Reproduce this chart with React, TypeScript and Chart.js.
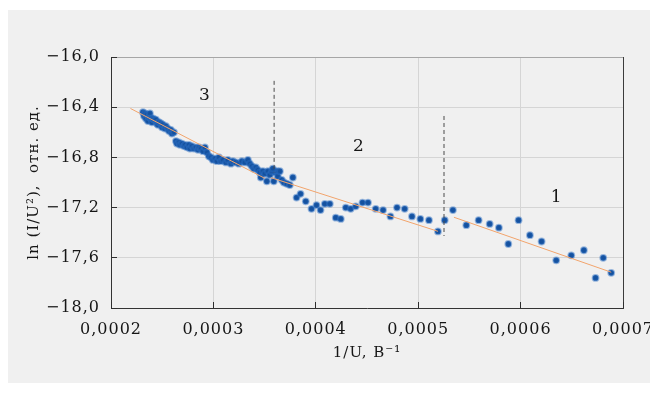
import React, { useEffect, useRef } from "react";
import { Chart, registerables } from "chart.js";

Chart.register(...registerables);

const xTicks = [0.0002, 0.0003, 0.0004, 0.0005, 0.0006, 0.0007];
const yTicks = [-18.0, -17.6, -17.2, -16.8, -16.4, -16.0];

const xTitle = "1/U, В\u207B\u00B9";
const yTitle = "ln (I/U\u00B2),  отн. ед.";

// Zone 3 measurements
const zone3X = [
  0.0002312, 0.0002322, 0.0002332, 0.0002341, 0.0002351, 0.0002361, 0.0002371, 0.000238, 0.000239, 0.00024,
  0.000241, 0.000242, 0.0002439, 0.0002449, 0.0002459, 0.0002468, 0.0002488, 0.0002498, 0.0002507, 0.0002527,
  0.0002537, 0.0002556, 0.0002566, 0.0002585, 0.0002595, 0.0002615,
  0.0002634, 0.0002644, 0.0002663, 0.0002673, 0.0002693, 0.0002712, 0.0002722, 0.0002741, 0.0002761, 0.0002771,
  0.000279, 0.000281, 0.0002829, 0.0002849, 0.0002859, 0.0002878, 0.0002898, 0.0002917,
  0.0002937, 0.0002956, 0.0002976, 0.0002995, 0.0003015, 0.0003034, 0.0003054, 0.0003073, 0.0003093, 0.0003122,
  0.0003141, 0.0003171, 0.000319, 0.000322, 0.0003249, 0.0003278, 0.0003307, 0.0003337, 0.0003356,
  0.0003376, 0.0003395, 0.0003415, 0.0003434, 0.0003454, 0.0003463, 0.0003483, 0.0003502, 0.0003522, 0.0003532,
  0.0003551, 0.0003571, 0.000358, 0.000359,
];
const zone3Y = [
  -16.44, -16.47, -16.45, -16.49, -16.46, -16.51, -16.48, -16.45, -16.49, -16.52,
  -16.49, -16.5, -16.5, -16.53, -16.54, -16.52, -16.53, -16.56, -16.54, -16.57,
  -16.55, -16.57, -16.59, -16.58, -16.61, -16.6,
  -16.67, -16.69, -16.68, -16.7, -16.69, -16.71, -16.7, -16.72, -16.7, -16.73,
  -16.71, -16.73, -16.72, -16.74, -16.72, -16.73, -16.75, -16.72,
  -16.76, -16.79, -16.8, -16.82, -16.81, -16.83, -16.8, -16.83, -16.82, -16.84,
  -16.82, -16.85, -16.83, -16.84, -16.85, -16.83, -16.84, -16.82, -16.85,
  -16.87, -16.89, -16.88, -16.9, -16.92, -16.96, -16.91, -16.93, -16.99, -16.91,
  -16.94, -16.91, -16.89, -16.99,
];

// Zone 2 measurements
const zone2X = [
  0.00036, 0.000362, 0.0003629, 0.0003649, 0.0003668, 0.0003688, 0.0003717, 0.0003746, 0.0003776,
  0.0003812, 0.0003851, 0.0003902, 0.0003958, 0.0004007, 0.0004046, 0.0004088, 0.0004137, 0.0004195, 0.0004244,
  0.0004293, 0.0004341, 0.000439, 0.0004456, 0.000451, 0.0004585, 0.0004657, 0.0004729, 0.0004793, 0.0004868,
  0.0004939, 0.0005021, 0.0005105, 0.0005193,
];
const zone2Y = [
  -16.92, -16.91, -16.95, -16.91, -16.98, -17.0, -17.01, -17.02, -16.96,
  -17.12, -17.09, -17.15, -17.21, -17.18, -17.22, -17.17, -17.17, -17.28, -17.29,
  -17.2, -17.21, -17.19, -17.16, -17.16, -17.21, -17.22, -17.27, -17.2, -17.21,
  -17.27, -17.29, -17.3, -17.39,
];

// Zone 1 measurements
const zone1X = [
  0.0005259, 0.0005339, 0.000547, 0.000559, 0.0005698, 0.0005788, 0.000588, 0.000598,
  0.0006091, 0.0006205, 0.0006348, 0.0006495, 0.0006618, 0.0006732, 0.0006807, 0.0006885,
];
const zone1Y = [
  -17.3, -17.22, -17.34, -17.3, -17.33, -17.36, -17.49, -17.3,
  -17.42, -17.47, -17.62, -17.58, -17.54, -17.76, -17.6, -17.72,
];

// Fitted lines (end points)
const fit3X = [0.000219, 0.0003502];
const fit3Y = [-16.41, -16.967];
const fit2X = [0.0003561, 0.0005193];
const fit2Y = [-16.961, -17.389];
const fit1X = [0.0005349, 0.0006885];
const fit1Y = [-17.277, -17.715];

// Zone boundaries (dashed)
const bound32X = [0.0003593, 0.0003593];
const bound32Y = [-16.19, -16.92];
const bound21X = [0.0005252, 0.0005252];
const bound21Y = [-16.47, -17.426];

// Zone labels
const zoneLabels = ["3", "2", "1"];
const zoneLabelX = [0.0002917, 0.000442, 0.0006351];
const zoneLabelY = [-16.31, -16.717, -17.124];

const toPts = (xs: number[], ys: number[]) => xs.map((x, i) => ({ x, y: ys[i] }));

const FONT = "'DejaVu Serif', serif";
const TEXT = "#161616";

const decorPlugin = {
  id: "decor",
  beforeDraw(chart: any) {
    try {
      chart.ctx.letterSpacing = "1px";
    } catch (e) {}
  },
  afterDraw(chart: any) {
    const { ctx, chartArea: a, scales } = chart;
    const x = scales.x;
    const y = scales.y;
    const al = (p: number) => Math.round(p - 0.5) + 0.5;
    ctx.save();
    ctx.lineWidth = 1;
    // top border
    ctx.strokeStyle = "#a6a6a6";
    ctx.beginPath();
    ctx.moveTo(a.left, al(a.top));
    ctx.lineTo(a.right, al(a.top));
    ctx.stroke();
    // right border
    ctx.strokeStyle = "#3c3c3c";
    ctx.beginPath();
    ctx.moveTo(al(a.right), a.top);
    ctx.lineTo(al(a.right), a.bottom + 0.5);
    ctx.stroke();
    // inward tick marks
    ctx.strokeStyle = "#2e2e2e";
    ctx.beginPath();
    xTicks.forEach((v) => {
      const px = al(x.getPixelForValue(v));
      ctx.moveTo(px, a.bottom);
      ctx.lineTo(px, a.bottom - 6);
    });
    yTicks.forEach((v) => {
      const py = al(y.getPixelForValue(v));
      ctx.moveTo(a.left, py);
      ctx.lineTo(a.left + 6, py);
    });
    ctx.stroke();
    // zone labels
    ctx.fillStyle = TEXT;
    ctx.font = `17px ${FONT}`;
    ctx.textAlign = "center";
    ctx.textBaseline = "middle";
    zoneLabels.forEach((t, i) => {
      ctx.fillText(t, x.getPixelForValue(zoneLabelX[i]), y.getPixelForValue(zoneLabelY[i]));
    });
    ctx.restore();
  },
};

export default function App() {
  const ref = useRef<HTMLCanvasElement | null>(null);

  useEffect(() => {
    if (!ref.current) return;
    const pointStyle = {
      backgroundColor: "#15519e",
      borderColor: "rgba(45,110,195,0.45)",
      borderWidth: 2,
      pointRadius: 2.9,
      pointHoverRadius: 2.9,
      showLine: false,
      order: 2,
    };
    const fitStyle = {
      borderColor: "#f2a46c",
      borderWidth: 1,
      pointRadius: 0,
      showLine: true,
      fill: false,
      order: 0,
    };
    const dashStyle = {
      borderColor: "#4a4a4a",
      borderWidth: 1,
      borderDash: [4, 3],
      pointRadius: 0,
      showLine: true,
      fill: false,
      order: 0,
    };
    const chart = new Chart(ref.current, {
      type: "scatter",
      data: {
        datasets: [
          { ...fitStyle, data: toPts(fit3X, fit3Y) },
          { ...fitStyle, data: toPts(fit2X, fit2Y) },
          { ...fitStyle, data: toPts(fit1X, fit1Y) },
          { ...dashStyle, data: toPts(bound32X, bound32Y) },
          { ...dashStyle, data: toPts(bound21X, bound21Y) },
          { ...pointStyle, data: toPts(zone3X, zone3Y) },
          { ...pointStyle, data: toPts(zone2X, zone2Y) },
          { ...pointStyle, data: toPts(zone1X, zone1Y) },
        ] as any,
      },
      options: {
        animation: false,
        responsive: false,
        devicePixelRatio: 1,
        layout: { padding: { left: 0, top: 47, right: 35, bottom: 0 } },
        plugins: {
          legend: { display: false },
          tooltip: { enabled: false },
        },
        scales: {
          x: {
            type: "linear",
            min: 0.0002,
            max: 0.0007,
            afterBuildTicks: (s: any) => {
              s.ticks = xTicks.map((v) => ({ value: v }));
            },
            afterFit: (s: any) => {
              s.height = 77;
              s.paddingLeft = 0;
              s.paddingRight = 0;
            },
            ticks: {
              autoSkip: false,
              maxRotation: 0,
              padding: 12,
              color: TEXT,
              font: { family: FONT, size: 16 },
              callback: (v: any) => Number(v).toFixed(4).replace(".", ","),
            },
            grid: { color: "#d5d5d5", lineWidth: 1, drawTicks: false },
            border: { display: true, color: "#333333", width: 1 },
            title: {
              display: true,
              text: xTitle,
              color: TEXT,
              font: { family: FONT, size: 15 },
              padding: { top: 0, bottom: 23 },
            },
          },
          y: {
            type: "linear",
            min: -18,
            max: -16,
            afterBuildTicks: (s: any) => {
              s.ticks = yTicks.map((v) => ({ value: v }));
            },
            afterFit: (s: any) => {
              s.width = 104;
              s.paddingTop = 0;
              s.paddingBottom = 0;
            },
            ticks: {
              padding: 11,
              color: TEXT,
              font: { family: FONT, size: 16 },
              callback: (v: any) => Number(v).toFixed(1).replace(".", ",").replace("-", "\u2212"),
            },
            grid: { color: "#d5d5d5", lineWidth: 1, drawTicks: false },
            border: { display: true, color: "#333333", width: 1 },
            title: {
              display: true,
              text: yTitle,
              color: TEXT,
              font: { family: FONT, size: 15 },
              padding: { top: 18.5, bottom: 0 },
            },
          },
        },
      } as any,
      plugins: [decorPlugin],
    });
    return () => chart.destroy();
  }, []);

  return (
    <div style={{ position: "relative", left: -1, top: 2, width: 651, height: 375 }}>
      <div
        style={{ position: "absolute", left: 0, top: 0, width: 643, height: 375, background: "#f0f0f0" }}
      />
      <canvas
        ref={ref}
        width={651}
        height={375}
        style={{ position: "absolute", left: 0, top: 0, display: "block" }}
      />
    </div>
  );
}
